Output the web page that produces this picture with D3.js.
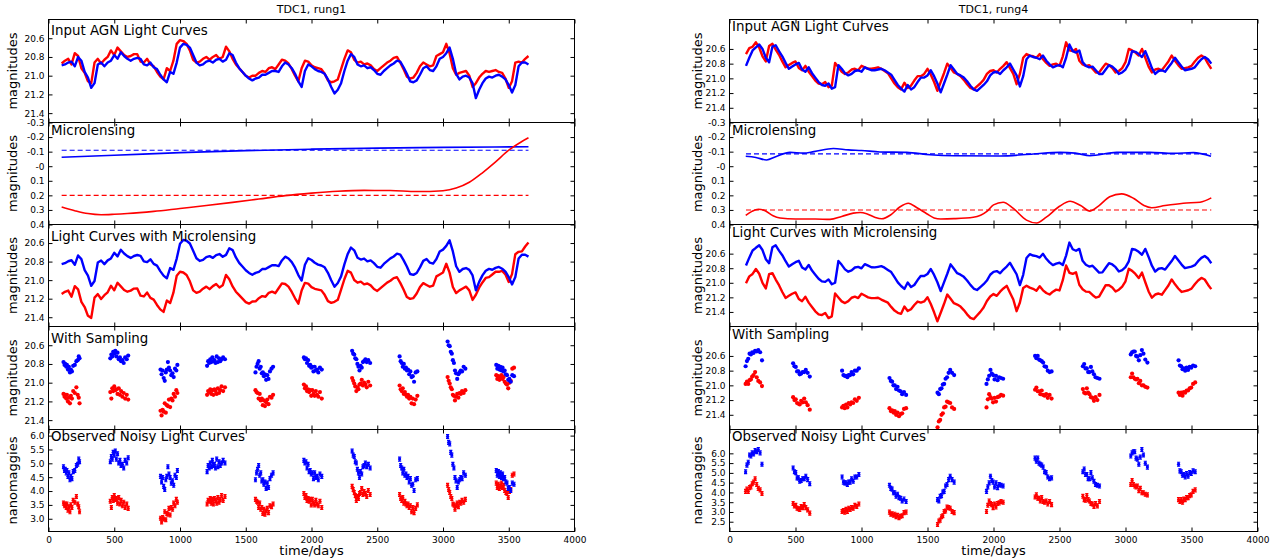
<!DOCTYPE html>
<html>
<head>
<meta charset="utf-8">
<script src="https://cdn.jsdelivr.net/npm/d3@7"></script>
<style>
  body { margin: 0; background: #fff; }
  svg text { font-family: "DejaVu Sans", sans-serif; fill: #000; }
</style>
</head>
<body>
<svg id="fig" width="1281" height="560"></svg>
<script>
// ---------------------------------------------------------------
// Shared labels and ticks
// ---------------------------------------------------------------
const figureTitles = ["TDC1, rung1", "TDC1, rung4"];
const panelTitles = ["Input AGN Light Curves", "Microlensing", "Light Curves with Microlensing",
                     "With Sampling", "Observed Noisy Light Curves"];
const panelUnits = ["magnitudes", "magnitudes", "magnitudes", "magnitudes", "nanomaggies"];
const xAxisLabel = "time/days";
const timeDomain = [0, 4000];
const timeTicks = [0, 500, 1000, 1500, 2000, 2500, 3000, 3500, 4000];
const magTicks = [20.6, 20.8, 21.0, 21.2, 21.4];
const microDomain = [-0.3, 0.4];
const microTicks = [-0.3, -0.2, -0.1, 0, 0.1, 0.2, 0.3, 0.4];
const microTickLabels = ["-0.3", "-0.2", "-0.1", "-0", "0.1", "0.2", "0.3", "0.4"];
const fluxZeroPoint = 22.5; // nanomaggie zero point (AB mag)

// ---------------------------------------------------------------
// Rung 1
// ---------------------------------------------------------------
const rung1MagDomain = [20.4, 21.5];
const rung1FluxDomain = [2.54, 6.22];
const rung1FluxTicks = [3.0, 3.5, 4.0, 4.5, 5.0, 5.5, 6.0];
const rung1FluxErr = 0.07;
const rung1CurveStart = 100, rung1CurveStep = 25;

// intrinsic light curve, image A (red) and image B (blue), magnitudes
const rung1IntrinsicA = [
  20.87, 20.84, 20.82, 20.88, 20.76, 20.79, 20.92, 20.97,
  21.06, 21.08, 20.86, 20.82, 20.87, 20.83, 20.80, 20.73,
  20.78, 20.70, 20.74, 20.78, 20.80, 20.79, 20.77, 20.77,
  20.85, 20.86, 20.82, 20.88, 20.90, 20.96, 21.01, 21.04,
  20.92, 20.95, 20.84, 20.66, 20.62, 20.63, 20.66, 20.73,
  20.83, 20.86, 20.85, 20.82, 20.80, 20.83, 20.80, 20.78,
  20.82, 20.80, 20.69, 20.74, 20.82, 20.88, 20.92, 20.96,
  21.00, 21.02, 21.00, 21.00, 20.97, 20.95, 20.96, 20.92,
  20.91, 20.93, 20.88, 20.83, 20.84, 20.87, 20.93, 21.00,
  21.06, 20.92, 20.84, 20.85, 20.89, 20.91, 20.92, 20.93,
  20.98, 21.05, 21.07, 21.06, 21.04, 20.93, 20.82, 20.73,
  20.75, 20.83, 20.86, 20.85, 20.88, 20.87, 20.89, 20.93,
  20.95, 20.92, 20.89, 20.86, 20.84, 20.81, 20.80, 20.86,
  20.93, 21.01, 21.03, 21.02, 20.97, 20.90, 20.86, 20.88,
  20.90, 20.89, 20.79, 20.77, 20.75, 20.66, 20.76, 20.92,
  20.99, 20.97, 20.96, 20.95, 21.00, 21.12, 21.08, 21.02,
  20.98, 20.95, 20.96, 20.95, 20.94, 20.96, 20.97, 21.03,
  21.13, 21.06, 20.86, 20.85, 20.86, 20.82, 20.79
];
const rung1IntrinsicB = [
  20.89, 20.88, 20.86, 20.85, 20.90, 20.80, 20.84, 20.96,
  21.02, 21.13, 21.08, 20.88, 20.86, 20.90, 20.86, 20.84,
  20.78, 20.82, 20.75, 20.79, 20.82, 20.84, 20.82, 20.81,
  20.82, 20.88, 20.89, 20.86, 20.91, 20.93, 20.99, 21.04,
  21.07, 20.96, 20.98, 20.86, 20.70, 20.66, 20.67, 20.70,
  20.78, 20.86, 20.89, 20.88, 20.85, 20.84, 20.86, 20.83,
  20.82, 20.85, 20.83, 20.76, 20.78, 20.86, 20.92, 20.96,
  21.00, 21.03, 21.05, 21.03, 21.02, 20.99, 20.99, 20.97,
  20.95, 20.95, 20.96, 20.90, 20.86, 20.88, 20.92, 20.98,
  21.06, 21.12, 20.95, 20.88, 20.90, 20.93, 20.95, 20.96,
  20.98, 21.04, 21.12, 21.19, 21.15, 21.08, 20.95, 20.84,
  20.77, 20.80, 20.88, 20.90, 20.89, 20.92, 20.91, 20.94,
  20.98, 20.99, 20.95, 20.92, 20.89, 20.87, 20.84, 20.85,
  20.91, 20.98, 21.06, 21.07, 21.05, 20.99, 20.92, 20.90,
  20.94, 20.95, 20.90, 20.82, 20.80, 20.76, 20.70, 20.82,
  20.98, 21.04, 21.01, 21.00, 21.02, 21.08, 21.24, 21.15,
  21.08, 21.03, 21.01, 21.02, 21.00, 20.99, 21.01, 21.04,
  21.10, 21.18, 21.10, 20.90, 20.86, 20.86, 20.88
];

// microlensing magnification curves (mag) and their mean levels
const rung1MicroTimeA = [100, 200, 300, 400, 500, 600, 800, 1000, 1200, 1400, 1600, 1800, 2000,
                         2200, 2400, 2600, 2800, 3000, 3100, 3200, 3300, 3400, 3500, 3600, 3650];
const rung1MicroA = [0.28, 0.305, 0.325, 0.333, 0.33, 0.325, 0.31, 0.29, 0.27, 0.248, 0.225, 0.202, 0.185,
                     0.172, 0.166, 0.167, 0.174, 0.168, 0.15, 0.11, 0.045, -0.03, -0.11, -0.17, -0.195];
const rung1MicroTimeB = [100, 500, 1000, 1500, 2000, 2500, 3000, 3650];
const rung1MicroB = [-0.062, -0.075, -0.093, -0.107, -0.117, -0.124, -0.129, -0.134];
const rung1MicroMeanA = 0.2, rung1MicroMeanB = -0.11;

// observing epochs and sampled magnitudes
const rung1SampleTime = [
  114, 122, 127, 135, 140, 148, 155, 163, 170, 178, 188, 200, 212, 222, 230, 236,
  470, 478, 485, 492, 500, 508, 516, 525, 534, 543, 552, 562, 572, 583, 595, 606,
  852, 860, 868, 876, 884, 892, 900, 908, 916, 925, 934, 943, 952, 962, 972, 980,
  1206, 1214, 1222, 1230, 1238, 1246, 1254, 1262, 1270, 1279, 1288, 1297, 1306, 1316, 1328, 1342,
  1574, 1582, 1590, 1598, 1606, 1614, 1622, 1630, 1638, 1646, 1655, 1664, 1673, 1684, 1696, 1708,
  1942, 1950, 1958, 1966, 1974, 1982, 1990, 1998, 2006, 2015, 2024, 2033, 2042, 2052, 2064, 2078,
  2309, 2317, 2325, 2333, 2341, 2349, 2357, 2365, 2373, 2382, 2391, 2400, 2410, 2420, 2432, 2446,
  2670, 2678, 2686, 2694, 2702, 2710, 2718, 2726, 2734, 2743, 2752, 2761, 2770, 2780, 2792, 2805,
  3035, 3043, 3051, 3059, 3067, 3075, 3083, 3091, 3099, 3108, 3117, 3126, 3135, 3145, 3157, 3170,
  3405, 3413, 3421, 3429, 3437, 3445, 3453, 3461, 3469, 3478, 3487, 3496, 3505, 3515, 3527, 3540
];
const rung1SampleA = [
  21.12, 21.15, 21.13, 21.17, 21.13, 21.20, 21.16, 21.22, 21.14, 21.17, 21.09, 21.11, 21.05, 21.13, 21.16, 21.22,
  21.10, 21.17, 21.06, 21.09, 21.04, 21.08, 21.07, 21.12, 21.06, 21.13, 21.09, 21.15, 21.11, 21.17, 21.13, 21.18,
  21.30, 21.35, 21.29, 21.31, 21.22, 21.32, 21.24, 21.25, 21.18, 21.26, 21.17, 21.19, 21.12, 21.15, 21.08, 21.11,
  21.13, 21.09, 21.10, 21.07, 21.12, 21.08, 21.13, 21.07, 21.09, 21.12, 21.06, 21.11, 21.08, 21.04, 21.09, 21.05,
  21.08, 21.10, 21.11, 21.17, 21.12, 21.19, 21.17, 21.24, 21.19, 21.25, 21.21, 21.18, 21.23, 21.15, 21.16, 21.13,
  21.02, 21.06, 21.04, 21.09, 21.07, 21.10, 21.08, 21.14, 21.08, 21.12, 21.14, 21.09, 21.13, 21.15, 21.10, 21.17,
  20.95, 20.98, 21.01, 21.04, 21.09, 21.05, 21.07, 21.02, 21.01, 20.97, 21.03, 21.00, 21.02, 21.05, 20.99, 21.03,
  21.03, 21.07, 21.09, 21.06, 21.12, 21.10, 21.13, 21.15, 21.13, 21.17, 21.15, 21.22, 21.17, 21.23, 21.18, 21.14,
  20.94, 20.98, 21.01, 21.05, 21.07, 21.13, 21.14, 21.19, 21.15, 21.12, 21.16, 21.11, 21.12, 21.09, 21.11, 21.08,
  20.92, 20.96, 20.93, 20.97, 20.95, 20.92, 20.96, 20.94, 20.99, 21.01, 21.02, 21.06, 21.00, 20.98, 20.85, 20.84
];
const rung1SampleB = [
  20.78, 20.81, 20.80, 20.83, 20.81, 20.86, 20.83, 20.89, 20.86, 20.88, 20.82, 20.81, 20.77, 20.76, 20.72, 20.74,
  20.74, 20.70, 20.72, 20.67, 20.69, 20.66, 20.72, 20.68, 20.75, 20.73, 20.77, 20.76, 20.79, 20.73, 20.75, 20.71,
  20.86, 20.91, 20.87, 20.95, 20.98, 20.89, 20.86, 20.78, 20.84, 20.87, 20.92, 20.90, 20.94, 20.85, 20.87, 20.81,
  20.82, 20.77, 20.79, 20.75, 20.78, 20.73, 20.77, 20.76, 20.79, 20.72, 20.78, 20.74, 20.77, 20.75, 20.73, 20.75,
  20.89, 20.83, 20.80, 20.77, 20.85, 20.83, 20.90, 20.89, 20.93, 20.91, 20.97, 20.92, 20.96, 20.88, 20.85, 20.83,
  20.73, 20.75, 20.74, 20.79, 20.76, 20.82, 20.81, 20.84, 20.83, 20.88, 20.83, 20.87, 20.86, 20.89, 20.84, 20.86,
  20.66, 20.69, 20.70, 20.74, 20.75, 20.80, 20.83, 20.87, 20.82, 20.84, 20.78, 20.77, 20.75, 20.78, 20.76, 20.79,
  20.72, 20.77, 20.79, 20.83, 20.80, 20.85, 20.84, 20.87, 20.86, 20.91, 20.88, 20.94, 20.93, 20.99, 20.89, 20.88,
  20.56, 20.60, 20.61, 20.67, 20.69, 20.76, 20.79, 20.87, 20.90, 20.96, 20.91, 20.89, 20.87, 20.88, 20.83, 20.85,
  20.81, 20.85, 20.82, 20.86, 20.83, 20.87, 20.84, 20.88, 20.87, 20.91, 20.92, 20.97, 20.96, 20.99, 20.92, 20.93
];

// ---------------------------------------------------------------
// Rung 4
// ---------------------------------------------------------------
const rung4MagDomain = [20.2, 21.6];
const rung4FluxDomain = [2.0, 7.22];
const rung4FluxTicks = [2.5, 3.0, 3.5, 4.0, 4.5, 5.0, 5.5, 6.0];
const rung4FluxErr = 0.1;
const rung4CurveStart = 125, rung4CurveStep = 25;

const rung4IntrinsicA = [
  20.67, 20.59, 20.57, 20.51, 20.58, 20.70, 20.77, 20.56,
  20.53, 20.61, 20.68, 20.77, 20.85, 20.82, 20.79, 20.77,
  20.86, 20.89, 20.83, 20.91, 20.97, 21.03, 21.07, 21.08,
  21.05, 21.12, 21.10, 20.79, 20.85, 20.91, 20.94, 20.92,
  20.88, 20.87, 20.89, 20.83, 20.85, 20.87, 20.87, 20.86,
  20.85, 20.87, 20.90, 20.93, 21.00, 21.07, 21.12, 21.15,
  21.06, 21.13, 21.10, 21.03, 20.97, 20.97, 20.94, 20.87,
  20.95, 21.05, 21.17, 21.05, 20.93, 20.80, 20.86, 20.92,
  20.94, 20.97, 21.02, 21.08, 21.13, 21.15, 21.11, 21.07,
  21.02, 20.94, 20.90, 20.89, 20.92, 20.87, 20.83, 20.78,
  20.86, 20.94, 21.08, 20.94, 20.72, 20.67, 20.69, 20.70,
  20.72, 20.67, 20.74, 20.79, 20.83, 20.81, 20.80, 20.83,
  20.70, 20.51, 20.62, 20.63, 20.60, 20.76, 20.81, 20.83,
  20.82, 20.87, 20.92, 20.92, 20.86, 20.80, 20.82, 20.86,
  20.92, 20.90, 20.86, 20.78, 20.60, 20.62, 20.65, 20.69,
  20.60, 20.72, 20.84, 20.92, 20.88, 20.87, 20.89, 20.83,
  20.77, 20.69, 20.76, 20.82, 20.87, 20.86, 20.85, 20.83,
  20.77, 20.72, 20.69, 20.72, 20.80, 20.87
];
const rung4IntrinsicB = [
  20.83, 20.72, 20.62, 20.58, 20.54, 20.60, 20.72, 20.78,
  20.57, 20.55, 20.63, 20.70, 20.79, 20.87, 20.84, 20.81,
  20.79, 20.88, 20.91, 20.85, 20.93, 20.99, 21.05, 21.09,
  21.10, 21.07, 21.14, 21.12, 20.82, 20.87, 20.93, 20.96,
  20.94, 20.90, 20.89, 20.91, 20.85, 20.87, 20.89, 20.89,
  20.88, 20.87, 20.89, 20.92, 20.95, 21.02, 21.09, 21.14,
  21.18, 21.09, 21.15, 21.12, 21.05, 20.99, 20.99, 20.96,
  20.89, 20.97, 21.07, 21.19, 21.07, 20.95, 20.82, 20.88,
  20.94, 20.96, 20.99, 21.04, 21.10, 21.15, 21.17, 21.13,
  21.09, 21.04, 20.96, 20.92, 20.91, 20.94, 20.89, 20.85,
  20.80, 20.88, 20.96, 21.11, 20.97, 20.74, 20.69, 20.71,
  20.72, 20.74, 20.69, 20.76, 20.81, 20.85, 20.83, 20.82,
  20.85, 20.72, 20.54, 20.63, 20.65, 20.62, 20.78, 20.83,
  20.85, 20.84, 20.89, 20.94, 20.94, 20.88, 20.82, 20.84,
  20.88, 20.94, 20.92, 20.88, 20.80, 20.63, 20.64, 20.67,
  20.71, 20.63, 20.74, 20.86, 20.94, 20.90, 20.89, 20.91,
  20.85, 20.79, 20.72, 20.78, 20.84, 20.89, 20.88, 20.87,
  20.85, 20.79, 20.74, 20.71, 20.74, 20.80
];

const rung4MicroTimeA = [123, 170, 219, 270, 330, 383, 500, 650, 761, 850, 938, 990, 1039, 1100, 1153,
                         1220, 1290, 1355, 1420, 1494, 1550, 1600, 1700, 1847, 1950, 2000, 2073, 2150, 2250, 2327,
                         2400, 2500, 2580, 2660, 2731, 2800, 2880, 2971, 3060, 3140, 3198, 3300, 3438, 3565, 3650];
const rung4MicroA = [0.338, 0.31, 0.295, 0.305, 0.34, 0.355, 0.362, 0.362, 0.365, 0.345, 0.322, 0.318, 0.326, 0.35, 0.361,
                     0.335, 0.28, 0.254, 0.285, 0.326, 0.355, 0.362, 0.36, 0.35, 0.31, 0.265, 0.247, 0.29, 0.37, 0.39,
                     0.35, 0.275, 0.24, 0.27, 0.308, 0.27, 0.21, 0.19, 0.22, 0.27, 0.285, 0.27, 0.254, 0.247, 0.217];
const rung4MicroTimeB = [123, 200, 281, 350, 458, 560, 640, 787, 900, 1000, 1140, 1342, 1519, 1700, 2049, 2302,
                         2504, 2620, 2731, 2933, 3185, 3363, 3514, 3648];
const rung4MicroB = [-0.068, -0.06, -0.043, -0.065, -0.095, -0.09, -0.1, -0.122, -0.112, -0.108, -0.098, -0.095,
                     -0.079, -0.072, -0.07, -0.084, -0.095, -0.09, -0.072, -0.095, -0.095, -0.088, -0.093, -0.068];
const rung4MicroMeanA = 0.3, rung4MicroMeanB = -0.085;

const rung4SampleTime = [
  122, 132, 142, 152, 162, 172, 182, 194, 206, 218, 232, 246,
  482, 492, 502, 512, 522, 532, 543, 554, 566, 578, 592, 608,
  853, 863, 873, 883, 893, 903, 914, 925, 937, 950, 964, 980,
  1212, 1222, 1232, 1242, 1252, 1262, 1273, 1284, 1296, 1308, 1322, 1338,
  1576, 1586, 1596, 1606, 1616, 1626, 1637, 1648, 1660, 1672, 1686, 1702,
  1947, 1957, 1967, 1977, 1987, 1997, 2008, 2019, 2031, 2043, 2057, 2073,
  2315, 2325, 2335, 2345, 2355, 2365, 2376, 2387, 2399, 2411, 2425, 2440,
  2677, 2687, 2697, 2707, 2717, 2727, 2738, 2749, 2761, 2773, 2787, 2803,
  3040, 3050, 3060, 3070, 3080, 3090, 3101, 3112, 3124, 3136, 3150, 3166,
  3402, 3412, 3422, 3432, 3442, 3452, 3463, 3474, 3486, 3498, 3512, 3528
];
const rung4SampleA = [
  20.98, 20.95, 20.98, 20.93, 20.92, 20.88, 20.86, 20.82, 20.89, 20.94, 20.96, 21.01,
  21.16, 21.20, 21.19, 21.24, 21.25, 21.26, 21.21, 21.23, 21.18, 21.23, 21.27, 21.33,
  21.30, 21.28, 21.31, 21.26, 21.30, 21.24, 21.26, 21.23, 21.24, 21.19, 21.21, 21.17,
  21.31, 21.35, 21.34, 21.37, 21.35, 21.40, 21.37, 21.42, 21.39, 21.38, 21.32, 21.31,
  21.57, 21.49, 21.47, 21.40, 21.38, 21.30, 21.29, 21.22, 21.23, 21.24, 21.30, 21.32,
  21.30, 21.19, 21.12, 21.16, 21.18, 21.23, 21.17, 21.22, 21.16, 21.15, 21.13, 21.14,
  21.06, 21.03, 21.08, 21.08, 21.12, 21.07, 21.13, 21.14, 21.12, 21.17, 21.13, 21.18,
  21.05, 21.10, 21.11, 21.04, 21.10, 21.12, 21.16, 21.17, 21.21, 21.16, 21.20, 21.13,
  20.89, 20.84, 20.89, 20.91, 20.92, 20.91, 20.97, 20.94, 21.00, 21.00, 21.02, 21.03,
  21.10, 21.13, 21.10, 21.14, 21.09, 21.10, 21.07, 21.07, 21.04, 21.03, 20.98, 20.96
];
const rung4SampleB = [
  20.74, 20.67, 20.64, 20.57, 20.58, 20.55, 20.56, 20.53, 20.54, 20.52, 20.55, 20.66,
  20.70, 20.74, 20.75, 20.81, 20.81, 20.85, 20.84, 20.82, 20.82, 20.79, 20.83, 20.88,
  20.80, 20.86, 20.87, 20.87, 20.89, 20.86, 20.86, 20.82, 20.85, 20.80, 20.80, 20.77,
  20.90, 20.94, 20.95, 21.00, 21.00, 21.05, 21.02, 21.07, 21.08, 21.12, 21.09, 21.13,
  21.10, 21.12, 21.05, 21.04, 20.99, 20.98, 20.91, 20.89, 20.83, 20.79, 20.83, 20.86,
  20.98, 20.92, 20.87, 20.79, 20.84, 20.86, 20.92, 20.87, 20.93, 20.89, 20.90, 20.91,
  20.60, 20.63, 20.60, 20.65, 20.66, 20.67, 20.69, 20.74, 20.75, 20.80, 20.82, 20.81,
  20.74, 20.71, 20.77, 20.77, 20.82, 20.82, 20.75, 20.81, 20.85, 20.89, 20.90, 20.91,
  20.58, 20.55, 20.54, 20.54, 20.60, 20.61, 20.66, 20.59, 20.52, 20.57, 20.65, 20.69,
  20.66, 20.73, 20.74, 20.78, 20.77, 20.80, 20.76, 20.79, 20.75, 20.76, 20.73, 20.74
];

// ---------------------------------------------------------------
// Drawing
// ---------------------------------------------------------------
const RED = "#ff0000", BLUE = "#0000ff";
const svg = d3.select("#fig");
svg.append("rect").attr("width", 1281).attr("height", 560).attr("fill", "#fff");
const defs = svg.append("defs");

// five stacked panels share these horizontal edges
const edges = d3.range(6).map(i => Math.round(19.3 + i * 102.34) + 0.5);

function drawRung(o) {
  const g = svg.append("g");
  const x = d3.scaleLinear().domain(timeDomain).range([o.left, o.right]);
  const toFlux = m => Math.pow(10, -0.4 * (m - fluxZeroPoint));
  const curveT = o.intrA.map((_, i) => o.curveStart + i * o.curveStep);
  const microA = d3.scaleLinear().domain(o.microTA).range(o.microA).clamp(true);
  const microB = d3.scaleLinear().domain(o.microTB).range(o.microB).clamp(true);

  const ys = [
    d3.scaleLinear().domain(o.magDomain).range([edges[0], edges[1]]),
    d3.scaleLinear().domain(microDomain).range([edges[1], edges[2]]),
    d3.scaleLinear().domain(o.magDomain).range([edges[2], edges[3]]),
    d3.scaleLinear().domain(o.magDomain).range([edges[3], edges[4]]),
    d3.scaleLinear().domain(o.fluxDomain).range([edges[5], edges[4]])
  ];
  const yTicks = [magTicks, microTicks, magTicks, magTicks, o.fluxTicks];
  const yFormats = [d3.format(".1f"), (d, i) => microTickLabels[i], d3.format(".1f"),
                    d3.format(".1f"), d3.format(".1f")];

  ys.forEach((y, p) => {
    const clipId = `clip-${o.id}-${p}`;
    defs.append("clipPath").attr("id", clipId).append("rect")
      .attr("x", o.left).attr("y", edges[p]).attr("width", o.right - o.left).attr("height", edges[p + 1] - edges[p]);
    const layer = g.append("g").attr("clip-path", `url(#${clipId})`);
    const line = d3.line().x(d => x(d[0])).y(d => y(d[1]));

    if (p === 0 || p === 2) {
      // lensed curves add the microlensing term to the intrinsic curve
      const shiftA = t => (p === 2 ? microA(t) : 0);
      const shiftB = t => (p === 2 ? microB(t) : 0);
      const ptsA = curveT.map((t, i) => [t, o.intrA[i] + shiftA(t)]);
      const ptsB = curveT.map((t, i) => [t, o.intrB[i] + shiftB(t)]);
      layer.append("path").attr("d", line(ptsA)).attr("fill", "none")
        .attr("stroke", RED).attr("stroke-width", 2.4).attr("stroke-linejoin", "round");
      layer.append("path").attr("d", line(ptsB)).attr("fill", "none")
        .attr("stroke", BLUE).attr("stroke-width", 2.4).attr("stroke-linejoin", "round");
    } else if (p === 1) {
      const t0 = curveT[0], t1 = curveT[curveT.length - 1];
      [[o.meanB, BLUE], [o.meanA, RED]].forEach(([v, c]) => {
        layer.append("path").attr("d", line([[t0, v], [t1, v]])).attr("fill", "none")
          .attr("stroke", c).attr("stroke-width", 1.1).attr("stroke-dasharray", "5,3");
      });
      const smooth = d3.line().x(d => x(d[0])).y(d => y(d[1])).curve(d3.curveMonotoneX);
      layer.append("path").attr("d", smooth(o.microTB.map((t, i) => [t, o.microB[i]])))
        .attr("fill", "none").attr("stroke", BLUE).attr("stroke-width", 1.6);
      layer.append("path").attr("d", smooth(o.microTA.map((t, i) => [t, o.microA[i]])))
        .attr("fill", "none").attr("stroke", RED).attr("stroke-width", 1.6);
    } else if (p === 3) {
      [[o.sampA, RED], [o.sampB, BLUE]].forEach(([vals, c]) => {
        layer.append("g").selectAll("circle").data(o.sampT).join("circle")
          .attr("cx", t => x(t)).attr("cy", (t, i) => y(vals[i])).attr("r", 2.1).attr("fill", c);
      });
    } else {
      [[o.sampA, RED], [o.sampB, BLUE]].forEach(([vals, c]) => {
        const pts = o.sampT.map((t, i) => ({ t, f: toFlux(vals[i]) }));
        const eg = layer.append("g").attr("stroke", c).attr("stroke-width", 1.2);
        eg.selectAll("line.bar").data(pts).join("line").attr("class", "bar")
          .attr("x1", d => x(d.t)).attr("x2", d => x(d.t))
          .attr("y1", d => y(d.f - o.fluxErr)).attr("y2", d => y(d.f + o.fluxErr));
        [-1, 1].forEach(s => {
          eg.selectAll(`line.cap${s}`).data(pts).join("line").attr("class", `cap${s}`)
            .attr("x1", d => x(d.t) - 1.6).attr("x2", d => x(d.t) + 1.6)
            .attr("y1", d => y(d.f + s * o.fluxErr)).attr("y2", d => y(d.f + s * o.fluxErr));
        });
        layer.append("g").selectAll("circle").data(pts).join("circle")
          .attr("cx", d => x(d.t)).attr("cy", d => y(d.f)).attr("r", 1.6).attr("fill", c);
      });
    }

    // inward ticks on all four sides
    const styleAxis = a => {
      a.select(".domain").remove();
      a.attr("font-family", "DejaVu Sans").attr("font-size", 9).attr("color", "#000");
    };
    g.append("g").attr("transform", `translate(${o.left},0)`)
      .call(d3.axisLeft(y).tickValues(yTicks[p]).tickSize(-4).tickPadding(4).tickFormat(yFormats[p]))
      .call(styleAxis);
    g.append("g").attr("transform", `translate(${o.right},0)`)
      .call(d3.axisRight(y).tickValues(yTicks[p]).tickSize(-4).tickFormat(() => ""))
      .call(styleAxis);
    g.append("g").attr("transform", `translate(0,${edges[p]})`)
      .call(d3.axisTop(x).tickValues(timeTicks).tickSize(-4).tickFormat(() => ""))
      .call(styleAxis);
    g.append("g").attr("transform", `translate(0,${edges[p + 1]})`)
      .call(d3.axisBottom(x).tickValues(timeTicks).tickSize(-4).tickPadding(5.5)
        .tickFormat(p === 4 ? d3.format("d") : () => ""))
      .call(styleAxis);

    g.append("rect").attr("x", o.left).attr("y", edges[p])
      .attr("width", o.right - o.left).attr("height", edges[p + 1] - edges[p])
      .attr("fill", "none").attr("stroke", "#000").attr("stroke-width", 1);

    g.append("text").attr("x", o.left + 2.5).attr("y", edges[p] + o.titleDy[p])
      .attr("font-size", 13.4).text(panelTitles[p]);

    g.append("text")
      .attr("transform", `translate(${o.ylabelX},${(edges[p] + edges[p + 1]) / 2}) rotate(-90)`)
      .attr("text-anchor", "middle").attr("font-size", 13).text(panelUnits[p]);
  });

  g.append("text").attr("x", (o.left + o.right) / 2).attr("y", 13)
    .attr("text-anchor", "middle").attr("font-size", 11).text(o.title);
  g.append("text").attr("x", (o.left + o.right) / 2).attr("y", 555)
    .attr("text-anchor", "middle").attr("font-size", 13).text(xAxisLabel);
}

drawRung({
  id: "r1", title: figureTitles[0], left: 48.5, right: 574.5, ylabelX: 17,
  titleDy: [15.7, 12.3, 16.2, 16, 11.4],
  curveStart: rung1CurveStart, curveStep: rung1CurveStep,
  intrA: rung1IntrinsicA, intrB: rung1IntrinsicB,
  microTA: rung1MicroTimeA, microA: rung1MicroA, microTB: rung1MicroTimeB, microB: rung1MicroB,
  meanA: rung1MicroMeanA, meanB: rung1MicroMeanB,
  sampT: rung1SampleTime, sampA: rung1SampleA, sampB: rung1SampleB,
  magDomain: rung1MagDomain, fluxDomain: rung1FluxDomain, fluxTicks: rung1FluxTicks, fluxErr: rung1FluxErr
});

drawRung({
  id: "r4", title: figureTitles[1], left: 729.5, right: 1257.5, ylabelX: 702,
  titleDy: [11.7, 12.3, 12, 12, 11.4],
  curveStart: rung4CurveStart, curveStep: rung4CurveStep,
  intrA: rung4IntrinsicA, intrB: rung4IntrinsicB,
  microTA: rung4MicroTimeA, microA: rung4MicroA, microTB: rung4MicroTimeB, microB: rung4MicroB,
  meanA: rung4MicroMeanA, meanB: rung4MicroMeanB,
  sampT: rung4SampleTime, sampA: rung4SampleA, sampB: rung4SampleB,
  magDomain: rung4MagDomain, fluxDomain: rung4FluxDomain, fluxTicks: rung4FluxTicks, fluxErr: rung4FluxErr
});
</script>
</body>
</html>
